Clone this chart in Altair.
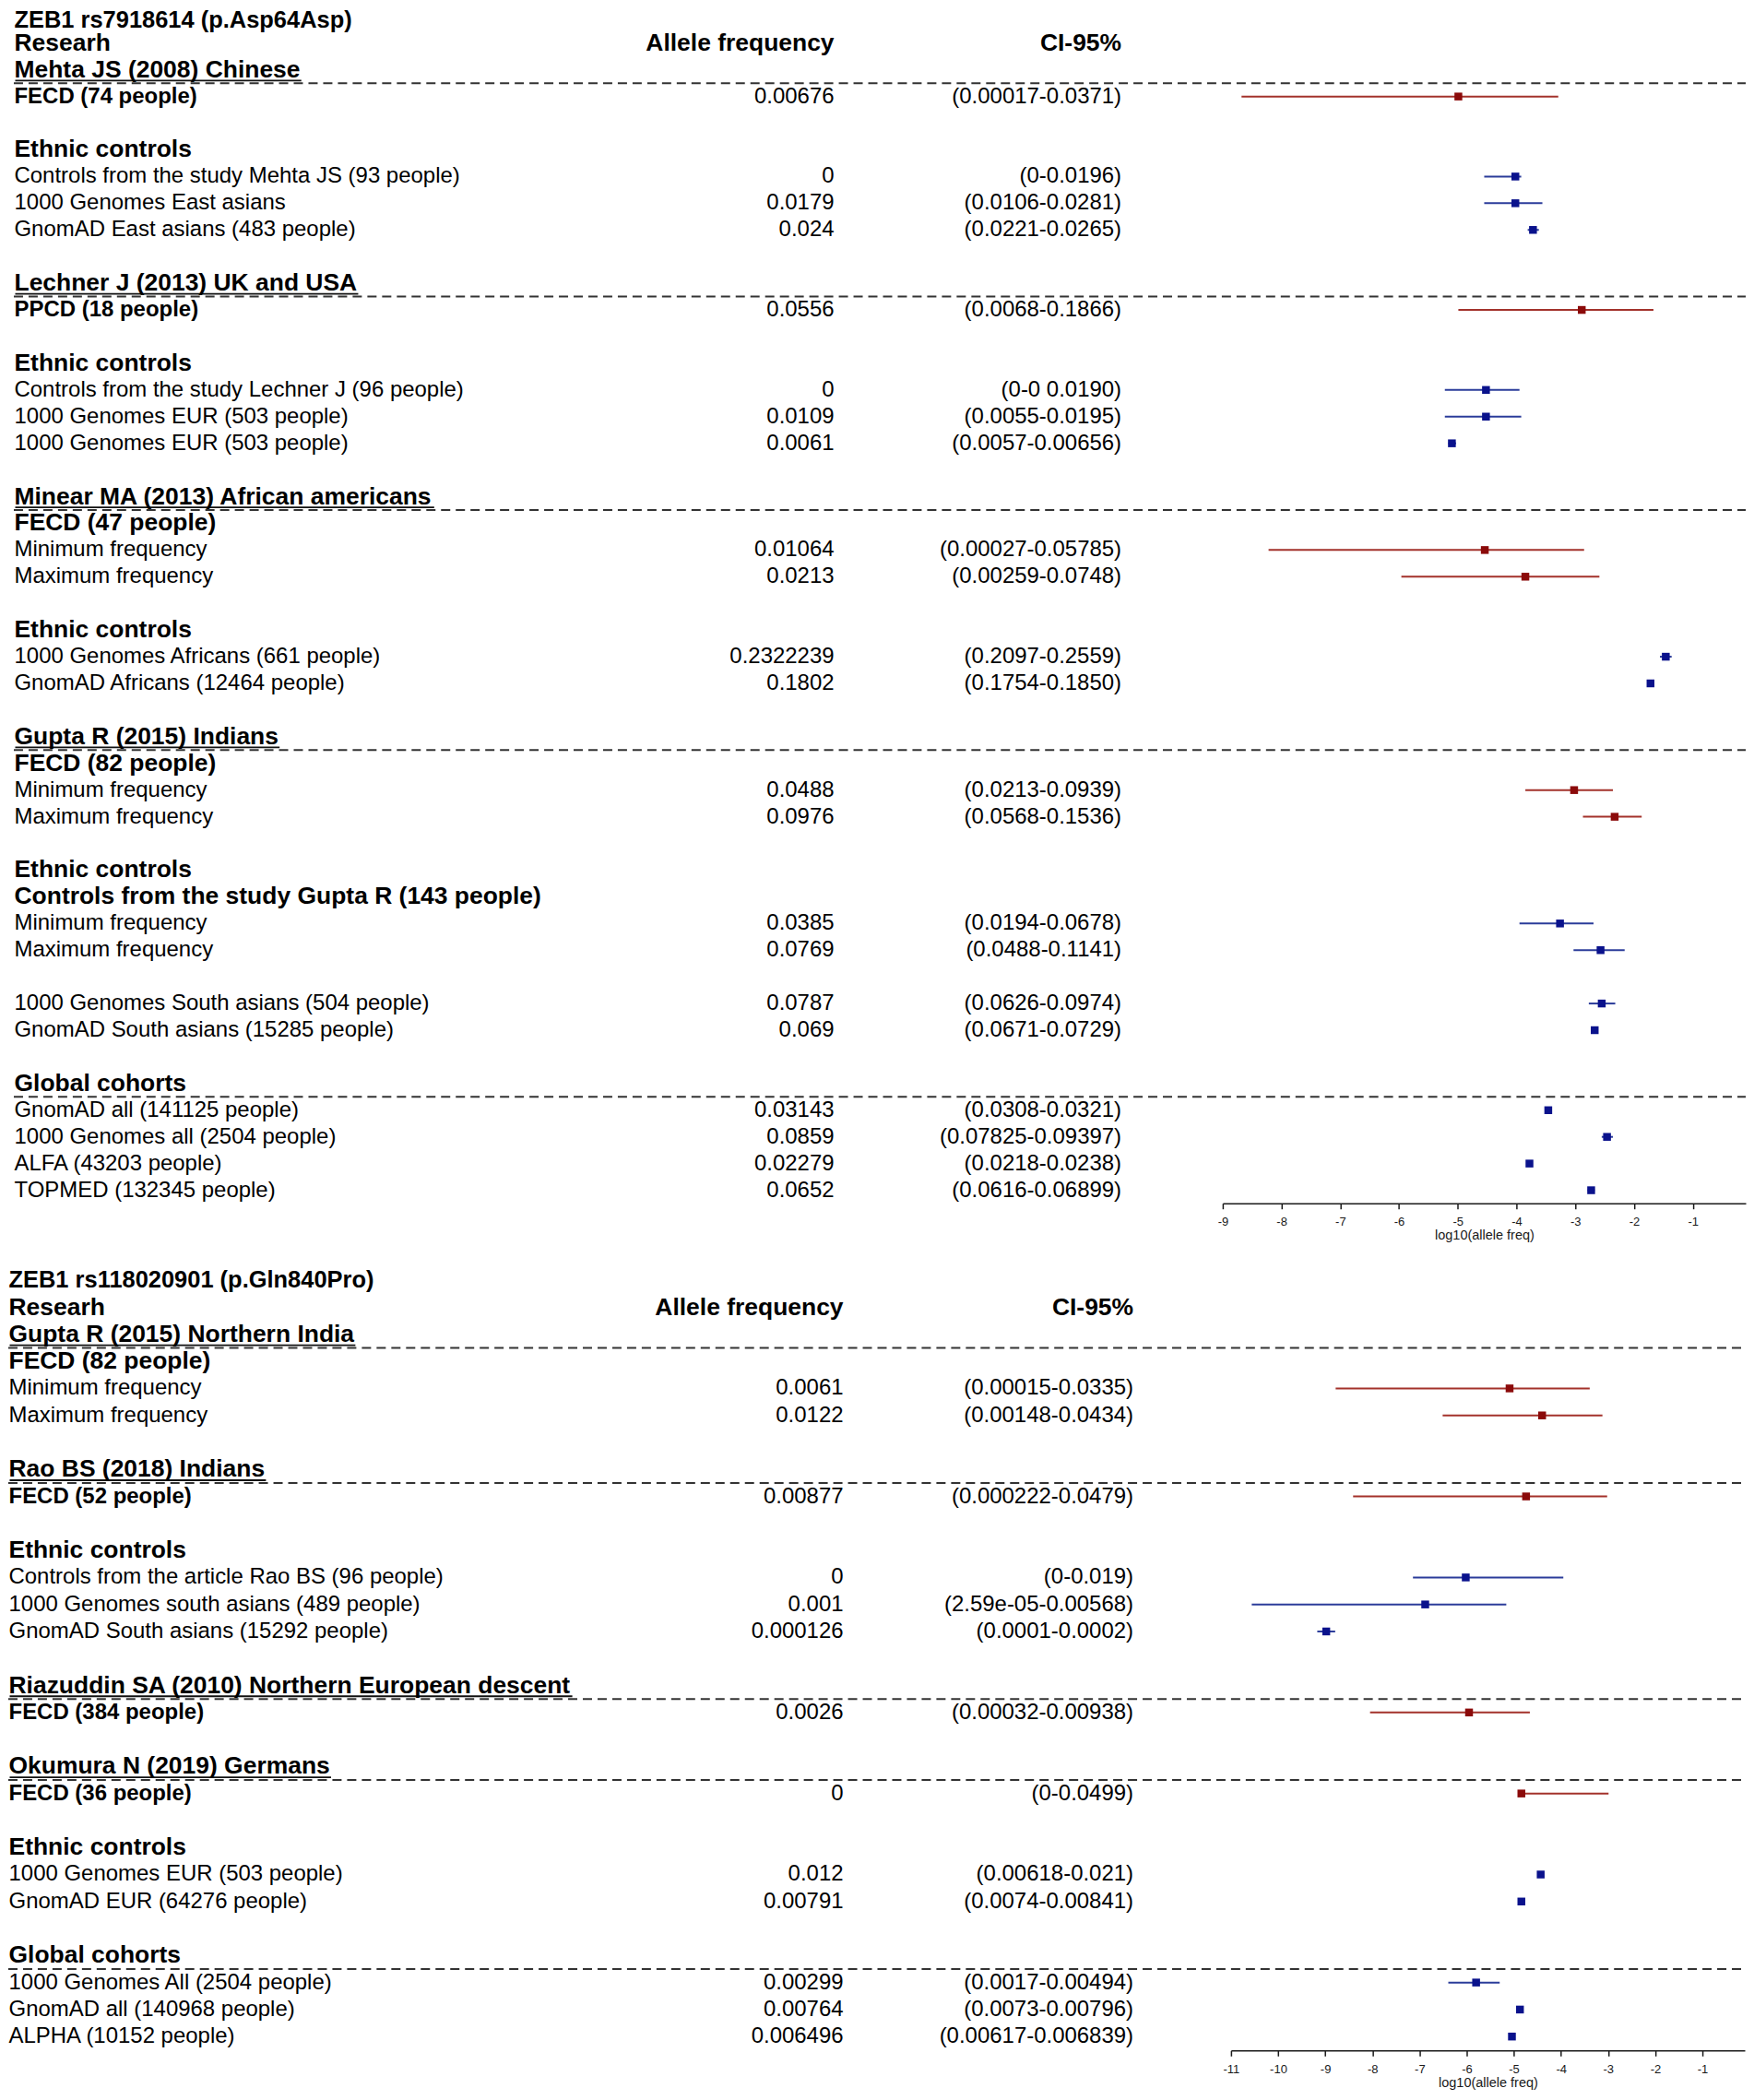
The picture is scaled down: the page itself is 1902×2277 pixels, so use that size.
import altair as alt
import pandas as pd

FONT = "Liberation Sans"
RED_LINE, RED_SQ = "#A3322B", "#8B0A0A"
BLUE_LINE, BLUE_SQ = "#2B3C9A", "#0A128C"

# ================= panel 1 : ZEB1 rs7918614 =================
top_title = "ZEB1 rs7918614 (p.Asp64Asp)"
top_label_rows = [1, 2, 3, 5, 6, 7, 8, 10, 11, 13, 14, 15, 16, 18, 19, 20, 21, 23, 24, 25,
                  27, 28, 29, 30, 32, 33, 34, 35, 37, 38, 40, 41, 42, 43, 44]
top_labels = [
    "Researh", "Mehta JS (2008) Chinese", "FECD (74 people)",
    "Ethnic controls", "Controls from the study Mehta JS (93 people)", "1000 Genomes East asians",
    "GnomAD East asians (483 people)", "Lechner J (2013) UK and USA", "PPCD (18 people)",
    "Ethnic controls", "Controls from the study Lechner J (96 people)", "1000 Genomes EUR (503 people)",
    "1000 Genomes EUR (503 people)", "Minear MA (2013) African americans", "FECD (47 people)",
    "Minimum frequency", "Maximum frequency", "Ethnic controls", "1000 Genomes Africans (661 people)",
    "GnomAD Africans (12464 people)", "Gupta R (2015) Indians", "FECD (82 people)",
    "Minimum frequency", "Maximum frequency", "Ethnic controls",
    "Controls from the study Gupta R (143 people)", "Minimum frequency", "Maximum frequency",
    "1000 Genomes South asians (504 people)", "GnomAD South asians (15285 people)", "Global cohorts",
    "GnomAD all (141125 people)", "1000 Genomes all (2504 people)", "ALFA (43203 people)",
    "TOPMED (132345 people)"]
top_label_style = ["H", "H", "B", "H", "R", "R", "R", "H", "B", "H", "R", "R", "R", "H", "H",
                   "R", "R", "H", "R", "R", "H", "H", "R", "R", "H", "H", "R", "R", "R", "R", "H",
                   "R", "R", "R", "R"]
top_underlined = [2, 10, 18, 27]
top_dash_rows = [2.5, 10.5, 18.5, 27.5, 40.5]

top_f_rows = [3, 6, 7, 8, 11, 14, 15, 16, 20, 21, 24, 25, 29, 30, 34, 35, 37, 38, 41, 42, 43, 44]
top_f_grp = ["case", "ctrl", "ctrl", "ctrl", "case", "ctrl", "ctrl", "ctrl", "case", "case", "ctrl",
             "ctrl", "case", "case", "ctrl", "ctrl", "ctrl", "ctrl", "ctrl", "ctrl", "ctrl", "ctrl"]
top_f_freq = ["0.00676", "0", "0.0179", "0.024", "0.0556", "0", "0.0109", "0.0061", "0.01064",
              "0.0213", "0.2322239", "0.1802", "0.0488", "0.0976", "0.0385", "0.0769", "0.0787",
              "0.069", "0.03143", "0.0859", "0.02279", "0.0652"]
top_f_ci = ["(0.00017-0.0371)", "(0-0.0196)", "(0.0106-0.0281)", "(0.0221-0.0265)",
            "(0.0068-0.1866)", "(0-0 0.0190)", "(0.0055-0.0195)", "(0.0057-0.00656)",
            "(0.00027-0.05785)", "(0.00259-0.0748)", "(0.2097-0.2559)", "(0.1754-0.1850)",
            "(0.0213-0.0939)", "(0.0568-0.1536)", "(0.0194-0.0678)", "(0.0488-0.1141)",
            "(0.0626-0.0974)", "(0.0671-0.0729)", "(0.0308-0.0321)", "(0.07825-0.09397)",
            "(0.0218-0.0238)", "(0.0616-0.06899)"]
top_f_lo = [-8.68, -4.55, -4.55, -3.81, -4.99, -5.22, -5.22, -5.16, -8.22, -5.96, -1.56, -1.74,
            -3.85, -2.87, -3.95, -3.03, -2.77, -2.70, -3.48, -2.55, -3.83, -2.79]
top_f_pt = [-4.99, -4.02, -4.02, -3.72, -2.89, -4.52, -4.52, -5.10, -4.54, -3.85, -1.46, -1.72,
            -3.02, -2.33, -3.26, -2.57, -2.55, -2.67, -3.46, -2.46, -3.78, -2.73]
top_f_hi = [-3.29, -3.92, -3.56, -3.62, -1.67, -3.95, -3.92, -5.03, -2.85, -2.59, -1.36, -1.69,
            -2.36, -1.87, -2.69, -2.16, -2.32, -2.62, -3.44, -2.36, -3.74, -2.67]
top_ticks = [-9, -8, -7, -6, -5, -4, -3, -2, -1]

# ================= panel 2 : ZEB1 rs118020901 =================
bot_title = "ZEB1 rs118020901 (p.Gln840Pro)"
bot_label_rows = [1, 2, 3, 4, 5, 7, 8, 10, 11, 12, 13, 15, 16, 18, 19, 21, 22, 23, 25, 26, 27, 28]
bot_labels = [
    "Researh", "Gupta R (2015) Northern India", "FECD (82 people)",
    "Minimum frequency", "Maximum frequency", "Rao BS (2018) Indians", "FECD (52 people)",
    "Ethnic controls", "Controls from the article Rao BS (96 people)",
    "1000 Genomes south asians (489 people)", "GnomAD South asians (15292 people)",
    "Riazuddin SA (2010) Northern European descent", "FECD (384 people)", "Okumura N (2019) Germans",
    "FECD (36 people)", "Ethnic controls", "1000 Genomes EUR (503 people)", "GnomAD EUR (64276 people)",
    "Global cohorts", "1000 Genomes All (2504 people)", "GnomAD all (140968 people)",
    "ALPHA (10152  people)"]
bot_label_style = ["H", "H", "H", "R", "R", "H", "B", "H", "R", "R", "R", "H", "B", "H", "B",
                   "H", "R", "R", "H", "R", "R", "R"]
bot_underlined = [2, 7, 15, 18]
bot_dash_rows = [2.5, 7.5, 15.5, 18.5, 25.5]

bot_f_rows = [4, 5, 8, 11, 12, 13, 16, 19, 22, 23, 26, 27, 28]
bot_f_grp = ["case", "case", "case", "ctrl", "ctrl", "ctrl", "case", "case", "ctrl", "ctrl",
             "ctrl", "ctrl", "ctrl"]
bot_f_freq = ["0.0061", "0.0122", "0.00877", "0", "0.001", "0.000126", "0.0026", "0", "0.012",
              "0.00791", "0.00299", "0.00764", "0.006496"]
bot_f_ci = ["(0.00015-0.0335)", "(0.00148-0.0434)", "(0.000222-0.0479)", "(0-0.019)",
            "(2.59e-05-0.00568)", "(0.0001-0.0002)", "(0.00032-0.00938)", "(0-0.0499)",
            "(0.00618-0.021)", "(0.0074-0.00841)", "(0.0017-0.00494)", "(0.0073-0.00796)",
            "(0.00617-0.006839)"]
bot_f_lo = [-8.78, -6.51, -8.41, -7.14, -10.56, -9.17, -8.05, -4.84, -4.47, -4.87, -6.39, -4.89, -5.06]
bot_f_pt = [-5.09, -4.40, -4.74, -6.02, -6.88, -8.98, -5.95, -4.84, -4.43, -4.84, -5.80, -4.87, -5.04]
bot_f_hi = [-3.39, -3.12, -3.02, -3.95, -5.16, -8.79, -4.66, -2.99, -4.39, -4.81, -5.30, -4.85, -5.02]
bot_ticks = [-11, -10, -9, -8, -7, -6, -5, -4, -3, -2, -1]

# bold Arial/Liberation Sans advance widths (per 1000 em) for underline lengths
BOLD_W = {" ": 278, "(": 333, ")": 333, ".": 278, "-": 333,
          "A": 722, "B": 722, "C": 722, "D": 722, "E": 667, "F": 611, "G": 778, "H": 722, "I": 278,
          "J": 556, "K": 722, "L": 611, "M": 833, "N": 722, "O": 778, "P": 667, "Q": 778, "R": 722,
          "S": 667, "T": 611, "U": 722, "V": 667, "W": 944, "X": 667, "Y": 667, "Z": 611,
          "a": 556, "b": 611, "c": 556, "d": 611, "e": 556, "f": 333, "g": 611, "h": 611, "i": 278,
          "j": 278, "k": 556, "l": 278, "m": 889, "n": 611, "o": 611, "p": 611, "q": 611, "r": 389,
          "s": 556, "t": 333, "u": 611, "v": 556, "w": 778, "x": 556, "y": 556, "z": 500}

FS_R, FS_B, FS_H, FS_T = 24, 24, 26.5, 25.5


def text_w(s, fs):
    return sum(BOLD_W.get(c, 556) for c in s) * fs / 1000.0


def panel(title, label_rows, labels, styles, underlined, dash_rows, f_rows, f_grp, f_freq, f_ci,
          f_lo, f_pt, f_hi, ticks, nrows, yrange, xdomain, xrange, label_x, val_x, ci_x,
          dash_x, width, height, title_at_top):
    ys = alt.Scale(domain=[0, nrows], range=yrange, nice=False, zero=False)

    def Y(field="row"):
        return alt.Y(f"{field}:Q", scale=ys, axis=None)

    lab = pd.DataFrame({"row": label_rows, "label": labels, "style": styles})
    ttl = pd.DataFrame({"row": [0], "label": [title]})
    forest = pd.DataFrame({"row": f_rows, "grp": f_grp, "freq": f_freq, "ci": f_ci,
                           "lo": f_lo, "pt": f_pt, "hi": f_hi})
    dash = pd.DataFrame({"row": dash_rows})
    ul_lab = [labels[label_rows.index(r)] for r in underlined]
    ul = pd.DataFrame({"row": [r + 0.4 for r in underlined],
                       "x0": [label_x + 1 for _ in underlined],
                       "x1": [label_x + 1 + text_w(s, FS_H) for s in ul_lab]})
    head = pd.DataFrame({"row": [1, 1], "label": ["Allele frequency", "CI-95%"],
                         "col": ["v", "c"]})

    xs = alt.Scale(domain=xdomain, range=xrange, nice=False, zero=False)
    axis = alt.Axis(values=ticks, title="log10(allele freq)", labelExpr="'' + datum.value",
                    grid=False, tickSize=6, tickWidth=1.5, domainWidth=1.5,
                    domainColor="#1a1a1a", tickColor="#1a1a1a", labelColor="#1a1a1a",
                    titleColor="#1a1a1a", labelFont=FONT, titleFont=FONT, labelFontSize=13,
                    titleFontSize=14.5, titleFontWeight="normal", labelPadding=8,
                    titlePadding=1, labelOverlap=False, labelFlush=False)

    dashes = alt.Chart(dash).mark_rule(color="#333333", strokeWidth=2, strokeDash=[10, 6]).encode(
        x=alt.value(dash_x[0]), x2=alt.value(dash_x[1]), y=Y())
    unders = alt.Chart(ul).mark_rule(color="#111111", strokeWidth=1.8).encode(
        x=alt.X("x0:Q", scale=alt.Scale(domain=[0, width], range=[0, width], nice=False, zero=False),
                axis=None),
        x2="x1:Q", y=Y())
    whisk = alt.Chart(forest).mark_rule(strokeWidth=2).encode(
        x=alt.X("lo:Q", scale=xs, axis=axis), x2="hi:Q", y=Y(),
        stroke=alt.Stroke("grp:N", scale=alt.Scale(domain=["case", "ctrl"],
                                                   range=[RED_LINE, BLUE_LINE]), legend=None))
    squares = alt.Chart(forest).mark_square(size=72, filled=True, opacity=1).encode(
        x=alt.X("pt:Q", scale=xs, axis=None), y=Y(),
        fill=alt.Fill("grp:N", scale=alt.Scale(domain=["case", "ctrl"],
                                               range=[RED_SQ, BLUE_SQ]), legend=None))

    def labels_layer(style, size, weight):
        return alt.Chart(lab).transform_filter(alt.datum.style == style).mark_text(
            align="left", baseline="middle", font=FONT, fontSize=size, fontWeight=weight,
            color="black", clip=True).encode(x=alt.value(label_x), y=Y(), text="label:N")

    if title_at_top:
        t_title = alt.Chart(ttl).mark_text(
            align="left", baseline="top", font=FONT, fontSize=FS_T, fontWeight="bold",
            color="black").encode(x=alt.value(label_x), y=alt.value(0), text="label:N")
    else:
        t_title = alt.Chart(ttl).mark_text(
            align="left", baseline="middle", font=FONT, fontSize=FS_T, fontWeight="bold",
            color="black").encode(x=alt.value(label_x), y=Y(), text="label:N")
    t_r = labels_layer("R", FS_R, "normal")
    t_b = labels_layer("B", FS_B, "bold")
    t_h = labels_layer("H", FS_H, "bold")
    h_v = alt.Chart(head).transform_filter(alt.datum.col == "v").mark_text(
        align="right", baseline="middle", font=FONT, fontSize=FS_H, fontWeight="bold",
        color="black", clip=True).encode(x=alt.value(val_x), y=Y(), text="label:N")
    h_c = alt.Chart(head).transform_filter(alt.datum.col == "c").mark_text(
        align="right", baseline="middle", font=FONT, fontSize=FS_H, fontWeight="bold",
        color="black", clip=True).encode(x=alt.value(ci_x), y=Y(), text="label:N")
    v_txt = alt.Chart(forest).mark_text(align="right", baseline="middle", font=FONT,
                                        fontSize=FS_R, color="black", clip=True).encode(
        x=alt.value(val_x), y=Y(), text="freq:N")
    c_txt = alt.Chart(forest).mark_text(align="right", baseline="middle", font=FONT,
                                        fontSize=FS_R, color="black", clip=True).encode(
        x=alt.value(ci_x), y=Y(), text="ci:N")

    return alt.layer(dashes, unders, whisk, squares, t_title, t_r, t_b, t_h, h_v, h_c,
                     v_txt, c_txt).resolve_scale(x="independent").properties(width=width, height=height)


top = panel(top_title, top_label_rows, top_labels, top_label_style, top_underlined, top_dash_rows,
            top_f_rows, top_f_grp, top_f_freq, top_f_ci, top_f_lo, top_f_pt, top_f_hi, top_ticks,
            nrows=44, yrange=[8.1, 1282.8], xdomain=[-9, -0.1], xrange=[1319, 1887],
            label_x=6.5, val_x=897, ci_x=1209, dash_x=[6, 1887], width=1887, height=1297,
            title_at_top=True)

bot = panel(bot_title, bot_label_rows, bot_labels, bot_label_style, bot_underlined, bot_dash_rows,
            bot_f_rows, bot_f_grp, bot_f_freq, bot_f_ci, bot_f_lo, bot_f_pt, bot_f_hi, bot_ticks,
            nrows=28, yrange=[18.7, 839.9], xdomain=[-11, -0.1], xrange=[1328, 1886],
            label_x=0.5, val_x=907, ci_x=1222, dash_x=[0, 1886], width=1887, height=855,
            title_at_top=False)

chart = alt.vconcat(top, bot, spacing=65, bounds="flush").properties(
    padding=0, background="white").configure_view(stroke=None)

chart.save("out.html", embed_options={"renderer": "svg", "actions": False})
